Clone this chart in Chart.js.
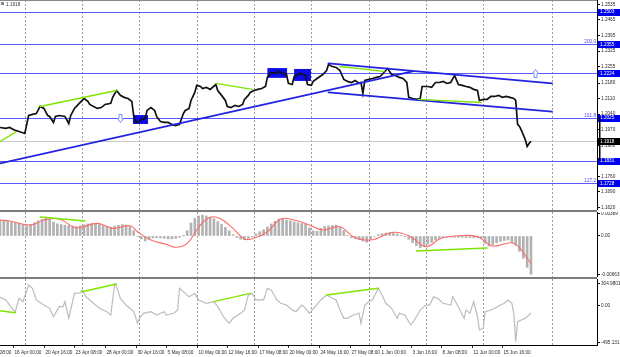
<!DOCTYPE html>
<html><head><meta charset="utf-8">
<script src="https://cdn.jsdelivr.net/npm/chart.js@4.4.1/dist/chart.umd.min.js"></script>
<style>
html,body{margin:0;padding:0;background:#fff;width:620px;height:357px;overflow:hidden;position:relative}
.pane{position:absolute;left:0}
.sep{position:absolute;left:0;width:597px;height:2px;background:#7c7c7c}
</style></head><body>
<canvas id="c1" class="pane" style="top:0" width="620" height="210"></canvas>
<div class="sep" style="top:210px"></div>
<canvas id="c2" class="pane" style="top:212px" width="620" height="65"></canvas>
<div class="sep" style="top:277px"></div>
<canvas id="c3" class="pane" style="top:279px" width="620" height="78"></canvas>
<script>
// ---------- DATA (bar index = H4 bar counted from left edge) ----------
const priceSeries = [[0,1.1980],[3,1.1976],[5,1.1980],[8,1.1967],[10,1.1962],[13,1.1953],[14,1.1994],[15,1.2034],[17,1.2039],[19,1.2043],[21,1.2075],[23,1.2066],[25,1.2034],[26,1.2030],[28,1.2003],[29,1.2030],[31,1.2034],[34,1.2030],[36,1.1998],[37,1.2034],[39,1.2066],[41,1.2084],[43,1.2102],[44,1.2111],[46,1.2098],[47,1.2084],[49,1.2075],[51,1.2066],[53,1.2070],[55,1.2084],[58,1.2089],[59,1.2116],[61,1.2147],[63,1.2125],[65,1.2116],[67,1.2111],[69,1.2098],[70,1.2034],[71,1.2003],[73,1.2007],[74,1.2016],[76,1.2021],[77,1.2057],[79,1.2070],[81,1.2057],[82,1.2030],[84,1.2007],[86,1.2003],[88,1.2003],[90,1.1994],[92,1.1989],[94,1.1994],[96,1.2043],[97,1.2057],[99,1.2066],[100,1.2102],[102,1.2138],[103,1.2170],[105,1.2165],[106,1.2156],[108,1.2161],[110,1.2152],[113,1.2174],[114,1.2147],[116,1.2125],[118,1.2102],[119,1.2075],[121,1.2070],[123,1.2080],[125,1.2075],[127,1.2084],[128,1.2107],[130,1.2125],[131,1.2138],[133,1.2147],[135,1.2152],[137,1.2156],[139,1.2165],[140,1.2206],[142,1.2228],[144,1.2224],[146,1.2233],[148,1.2224],[150,1.2219],[151,1.2179],[153,1.2174],[154,1.2210],[157,1.2224],[159,1.2219],[160,1.2215],[161,1.2174],[163,1.2170],[164,1.2188],[166,1.2201],[169,1.2219],[171,1.2237],[172,1.2264],[174,1.2255],[176,1.2251],[178,1.2237],[180,1.2197],[182,1.2188],[184,1.2183],[186,1.2192],[188,1.2179],[189,1.2183],[190,1.2134],[191,1.2192],[193,1.2197],[195,1.2201],[197,1.2206],[199,1.2210],[201,1.2228],[203,1.2246],[205,1.2219],[207,1.2215],[209,1.2206],[211,1.2201],[213,1.2183],[214,1.2116],[216,1.2111],[218,1.2107],[220,1.2111],[221,1.2165],[224,1.2165],[226,1.2161],[228,1.2183],[230,1.2183],[232,1.2188],[234,1.2179],[236,1.2183],[238,1.2215],[240,1.2174],[242,1.2170],[244,1.2165],[246,1.2161],[248,1.2152],[250,1.2147],[251,1.2102],[253,1.2107],[255,1.2107],[257,1.2120],[259,1.2120],[261,1.2125],[263,1.2116],[265,1.2120],[267,1.2116],[269,1.2111],[270,1.2102],[271,1.1994],[272,1.1985],[273,1.1967],[275,1.1926],[276,1.1895],[277,1.1908],[278,1.1918]];

const priceTicks = [1.2535,1.2465,1.2395,1.2325,1.2255,1.2180,1.2110,1.2040,1.1970,1.1900,1.1760,1.1690,1.1620];
const priceTickLabels = ["1.2535","1.2465","1.2395","1.2325","1.2255","1.2180","1.2110","1.2040","1.1970","1.1900","1.1760","1.1690","1.1620"];
const levelPrices = [1.2503,1.2355,1.2224,1.2025,1.1831,1.1728];
const levelLabels = ["1.2503","1.2355","1.2224","1.2025","1.1831","1.1728"];
const fiboPrices = [1.2355,1.2025,1.1728];
const fiboNames = ["200.0","161.8","127.2"];
const bidPrice = 1.1918;
const bidLabel = "1.1918";
const trendLines = [[0,1.1818,216,1.2233],[172,1.2269,289,1.2179],[172,1.2138,289,1.2052]];
const greenPriceLines = [[0,1.1917,8,1.1958],[21,1.2075,61,1.2147],[113,1.2179,132,1.2152],[178,1.2255,201,1.2233],[219,1.2107,252,1.2093]];
const boxes = [[140,150.3,1.2248,1.2204],[154,162.8,1.2244,1.2190],[69.6,77.5,1.2036,1.1996]];
const arrows = [[63,1.2025,"down"],[280,1.2228,"up"]];

const histStep = 2;
const histVals = [0.00274,0.00263,0.00251,0.00240,0.00234,0.00220,0.00200,0.00177,0.00200,0.00226,0.00260,0.00286,0.00301,0.00291,0.00240,0.00209,0.00196,0.00186,0.00179,0.00171,0.00160,0.00177,0.00191,0.00208,0.00214,0.00208,0.00194,0.00177,0.00162,0.00152,0.00169,0.00183,0.00196,0.00189,0.00160,0.00091,-0.00006,-0.00051,-0.00086,-0.00057,-0.00034,-0.00029,-0.00034,-0.00040,-0.00049,-0.00049,-0.00040,-0.00023,0.00003,0.00091,0.00223,0.00303,0.00343,0.00357,0.00343,0.00323,0.00297,0.00246,0.00197,0.00149,0.00089,0.00023,-0.00026,-0.00054,-0.00063,-0.00040,-0.00017,0.00034,0.00074,0.00106,0.00154,0.00206,0.00253,0.00291,0.00297,0.00274,0.00259,0.00242,0.00226,0.00212,0.00200,0.00140,0.00089,0.00080,0.00129,0.00163,0.00173,0.00181,0.00187,0.00146,0.00092,0.00006,-0.00029,-0.00049,-0.00065,-0.00086,-0.00109,-0.00057,-0.00009,0.00023,0.00040,0.00051,0.00058,0.00054,0.00034,0.00011,-0.00011,-0.00054,-0.00113,-0.00166,-0.00200,-0.00171,-0.00140,-0.00109,-0.00069,-0.00037,-0.00029,-0.00017,-0.00019,-0.00021,-0.00023,-0.00023,-0.00026,-0.00026,-0.00029,-0.00029,-0.00040,-0.00126,-0.00171,-0.00149,-0.00114,-0.00091,-0.00077,-0.00069,-0.00109,-0.00160,-0.00263,-0.00383,-0.00537,-0.00657];
const signalSeries = [[0,0.00274],[5,0.00257],[16,0.00189],[23,0.00274],[31,0.00291],[40,0.00143],[51,0.00217],[59,0.00131],[68,0.00177],[72,0.00074],[79,-0.00069],[87,-0.00143],[92,-0.00194],[98,-0.00126],[105,0.00189],[110,0.00320],[115,0.00303],[122,0.00131],[128,-0.00051],[133,-0.00040],[140,0.00074],[147,0.00291],[154,0.00274],[162,0.00189],[169,0.00103],[178,0.00160],[185,-0.00011],[194,-0.00069],[206,0.00063],[215,-0.00011],[223,-0.00183],[231,-0.00040],[241,0.00006],[250,-0.00011],[258,-0.00171],[269,-0.00126],[278,-0.00469]];
const macdTicks = [0.00389,0,-0.00663];
const macdTickLabels = ["0.00389","0.00","-0.00663"];
const greenMacdLines = [[21,0.00326,44.5,0.00257],[218,-0.00257,255,-0.00206]];

const cciSeries = [[0,117],[3,81],[7,-54],[8,-76],[10,103],[12,58],[15,282],[17,238],[19,81],[23,13],[26,-31],[28,-144],[31,-9],[33,-9],[34,58],[36,-165],[38,58],[39,170],[42,178],[43,215],[45,125],[49,36],[52,-31],[56,-76],[58,-121],[60,295],[61,259],[63,103],[66,13],[70,-76],[72,-232],[73,-165],[75,-98],[79,-76],[82,-121],[84,-98],[86,-76],[87,-121],[91,-98],[93,-54],[94,238],[97,170],[99,125],[102,170],[104,81],[108,36],[112,58],[114,-9],[117,-144],[120,-232],[122,-165],[126,-98],[128,-54],[130,148],[132,170],[134,81],[138,81],[140,238],[142,215],[145,81],[147,36],[150,13],[153,-54],[155,-76],[158,13],[160,-31],[162,-98],[165,-9],[168,81],[171,148],[174,103],[176,81],[178,-54],[180,-165],[182,-165],[185,-121],[188,-98],[189,-232],[191,13],[193,58],[195,81],[198,238],[200,148],[202,36],[205,-31],[208,-165],[209,-98],[212,-121],[215,-255],[217,-188],[220,-54],[223,13],[225,13],[227,125],[229,103],[232,36],[236,13],[237,125],[239,36],[243,-165],[244,-54],[246,-98],[248,58],[250,-144],[251,-322],[253,-299],[254,-76],[257,-54],[259,-31],[262,13],[264,36],[266,81],[268,36],[269,-98],[270,-479],[271,-211],[275,-165],[278,-98]];
const cciTicks = [304.98,0,-495.131];
const cciTickLabels = ["304.9801","0.00","-495.131"];
const greenCciLines = [[0,-63,8,-90],[43,192,61,295],[112,58,131,170],[171,148,198,238]];

const gridBars = [13,43,73,103,133,163,193,223,253,289];
const timeLabels = [[-9,"13 Apr 08:00"],[7,"16 Apr 00:00"],[23,"20 Apr 16:00"],[39,"23 Apr 08:00"],[55,"28 Apr 00:00"],[71,"30 Apr 16:00"],[87,"5 May 08:00"],[103,"10 May 00:00"],[119,"12 May 16:00"],[135,"17 May 08:00"],[151,"20 May 00:00"],[167,"24 May 16:00"],[183,"27 May 08:00"],[199,"1 Jun 00:00"],[215,"3 Jun 16:00"],[231,"8 Jun 08:00"],[247,"11 Jun 00:00"],[263,"15 Jun 16:00"]];
const titleText = "1.1918";

// ---------- helpers ----------
const X_MIN = 0, X_MAX = 312.57;
const FONT = "'Liberation Sans', Arial, sans-serif";
const FS = 4.7;
function X(c,b){return c.scales.x.getPixelForValue(b);}
function Y(c,v){return c.scales.y.getPixelForValue(v);}
function clipArea(c){const a=c.chartArea;c.ctx.beginPath();c.ctx.rect(a.left,a.top,a.right-a.left,a.bottom-a.top);c.ctx.clip();}
function segs(c,list,color,w){const ctx=c.ctx;ctx.save();clipArea(c);ctx.strokeStyle=color;ctx.lineWidth=w;ctx.lineCap='round';
  list.forEach(l=>{ctx.beginPath();ctx.moveTo(X(c,l[0]),Y(c,l[1]));ctx.lineTo(X(c,l[2]),Y(c,l[3]));ctx.stroke();});ctx.restore();}

function opts(ymin,ymax,ticks,labels,padBottom){
  return {responsive:false,animation:false,events:[],
    layout:{padding:{left:0,right:0,top:0,bottom:padBottom||0}},
    plugins:{legend:{display:false},tooltip:{enabled:false}},
    scales:{
      x:{type:'linear',min:X_MIN,max:X_MAX,display:false,offset:false},
      y:{position:'right',min:ymin,max:ymax,
        afterFit(s){s.width=23;s.paddingTop=0;s.paddingBottom=0;},
        afterBuildTicks(s){s.ticks=ticks.map(v=>({value:v}));},
        ticks:{autoSkip:false,padding:1,color:'#2a2a2a',font:{family:FONT,size:FS},callback:(v,i)=>labels[i]},
        grid:{drawOnChartArea:false,drawTicks:true,tickLength:3,color:'#000'},
        border:{display:true,color:'#000',width:1}}
    }};
}

const gridPlugin={id:'vgrid',beforeDatasetsDraw(c){const ctx=c.ctx,a=c.chartArea;ctx.save();ctx.strokeStyle='#9c9c9c';ctx.lineWidth=1;ctx.setLineDash([2,2]);
  gridBars.forEach(b=>{const x=Math.round(X(c,b))+0.5;ctx.beginPath();ctx.moveTo(x,a.top);ctx.lineTo(x,a.bottom);ctx.stroke();});ctx.restore();}};

// ---------- price pane ----------
const priceBack={id:'priceBack',beforeDatasetsDraw(c){const ctx=c.ctx,a=c.chartArea;ctx.save();clipArea(c);
  ctx.fillStyle='#8a8a8a';ctx.fillRect(0,0,a.right,1);
  ctx.strokeStyle='#c8c8c8';ctx.lineWidth=1;let yb=Math.round(Y(c,bidPrice))+0.5;ctx.beginPath();ctx.moveTo(a.left,yb);ctx.lineTo(a.right,yb);ctx.stroke();
  ctx.strokeStyle='#5a5aff';levelPrices.forEach(p=>{const y=Math.round(Y(c,p))+0.5;ctx.beginPath();ctx.moveTo(a.left,y);ctx.lineTo(a.right,y);ctx.stroke();});
  ctx.fillStyle='#0c0ce8';boxes.forEach(bx=>{const x1=X(c,bx[0]),x2=X(c,bx[1]),y1=Y(c,bx[2]),y2=Y(c,bx[3]);ctx.fillRect(x1,y1,x2-x1,y2-y1);});
  ctx.restore();}};
const priceFront={id:'priceFront',afterDatasetsDraw(c){const ctx=c.ctx,a=c.chartArea;
  segs(c,trendLines,'#2323e0',1.8);
  segs(c,greenPriceLines,'#7ee600',1.4);
  ctx.save();clipArea(c);ctx.strokeStyle='#7b8cff';ctx.fillStyle='#fff';ctx.lineWidth=1;
  arrows.forEach(ar=>{const x=Math.round(X(c,ar[0]))+0.5,y=Math.round(Y(c,ar[1]))+0.5;const d=ar[2]==='down'?1:-1;
    ctx.beginPath();ctx.moveTo(x-1.5,y-4*d);ctx.lineTo(x+1.5,y-4*d);ctx.lineTo(x+1.5,y);ctx.lineTo(x+3,y);ctx.lineTo(x,y+4*d);ctx.lineTo(x-3,y);ctx.lineTo(x-1.5,y);ctx.closePath();ctx.fill();ctx.stroke();});
  ctx.fillStyle='#4646ff';ctx.font=FS+'px '+FONT;ctx.textAlign='right';ctx.textBaseline='alphabetic';
  fiboPrices.forEach((p,i)=>{ctx.fillText(fiboNames[i],a.right-1,Y(c,p)-1);});
  ctx.textAlign='left';ctx.fillStyle='#333';ctx.fillText(titleText,6,6);
  ctx.fillStyle='#888';ctx.fillRect(1,2,3,3);
  ctx.restore();},
 afterDraw(c){const ctx=c.ctx,a=c.chartArea;ctx.save();ctx.font=FS+'px '+FONT;ctx.textBaseline='middle';ctx.textAlign='left';
  levelPrices.forEach((p,i)=>{const y=Y(c,p);ctx.fillStyle='#0000f0';ctx.fillRect(a.right+1,Math.round(y)-3,22,7);ctx.fillStyle='#fff';ctx.fillText(levelLabels[i],a.right+3,y+0.5);});
  const y=Y(c,bidPrice);ctx.fillStyle='#000';ctx.fillRect(a.right+1,Math.round(y)-3,22,7);ctx.fillStyle='#fff';ctx.fillText(bidLabel,a.right+3,y+0.5);
  ctx.fillStyle='#000';const y1=Y(c,levelPrices[3]),y2=Y(c,levelPrices[4]);ctx.fillRect(a.right+2,y1,1.5,y2-y1);
  ctx.restore();}};

new Chart(document.getElementById('c1'),{type:'line',
  data:{datasets:[{data:priceSeries.map(p=>({x:p[0],y:p[1]})),borderColor:'#111',borderWidth:1.7,pointRadius:0,tension:0,borderJoinStyle:'miter'}]},
  options:opts(1.1608,1.2555,priceTicks,priceTickLabels),plugins:[gridPlugin,priceBack,priceFront]});

// ---------- MACD pane ----------
const macdFront={id:'macdFront',afterDatasetsDraw(c){segs(c,greenMacdLines,'#7ee600',1.4);}};
new Chart(document.getElementById('c2'),{type:'line',
  data:{datasets:[
    {type:'line',data:signalSeries.map(p=>({x:p[0],y:p[1]})),borderColor:'#ff6a6a',borderWidth:1.1,pointRadius:0,tension:0.4,order:0},
    {type:'bar',data:histVals.map((v,i)=>({x:i*histStep,y:v})),backgroundColor:'#b2b2b2',barThickness:2,order:1}
  ]},
  options:opts(-0.00703,0.004115,macdTicks,macdTickLabels),plugins:[gridPlugin,macdFront]});

// ---------- CCI pane ----------
const cciFront={id:'cciFront',afterDatasetsDraw(c){segs(c,greenCciLines,'#7ee600',1.4);},
 afterDraw(c){const ctx=c.ctx,a=c.chartArea;ctx.save();ctx.fillStyle='#000';ctx.fillRect(0,a.bottom,a.right+1,1);
  ctx.font=FS+'px '+FONT;ctx.textAlign='left';ctx.textBaseline='alphabetic';
  timeLabels.forEach(t=>{const x=Math.round(X(c,t[0]))+0.5;ctx.strokeStyle='#333';ctx.lineWidth=1;ctx.beginPath();ctx.moveTo(x,a.bottom+1);ctx.lineTo(x,a.bottom+3);ctx.stroke();
    ctx.fillStyle='#2a2a2a';ctx.fillText(t[1],x+1,a.bottom+8.5);});
  ctx.restore();}};
new Chart(document.getElementById('c3'),{type:'line',
  data:{datasets:[{data:cciSeries.map(p=>({x:p[0],y:p[1]})),borderColor:'#bcbcbc',borderWidth:1.2,pointRadius:0,tension:0}]},
  options:opts(-523.5,362.4,cciTicks,cciTickLabels,12),plugins:[gridPlugin,cciFront]});
</script>
</body></html>
